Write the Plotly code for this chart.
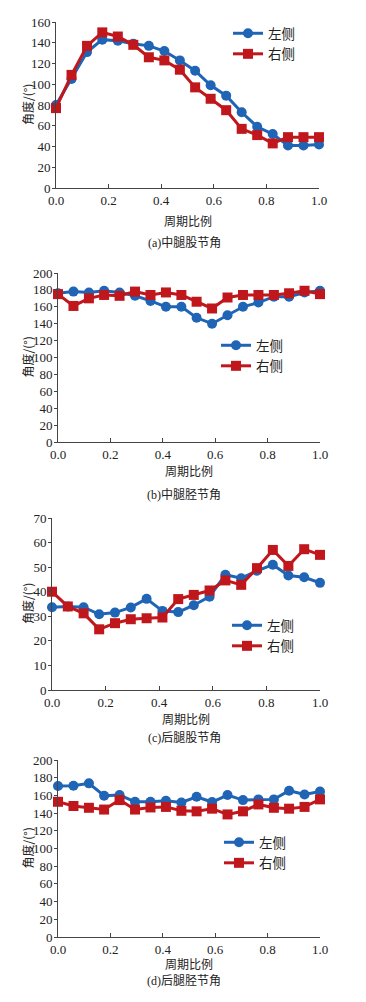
import plotly.graph_objects as go

x_ratio = [0.0, 0.059, 0.118, 0.176, 0.235, 0.294, 0.353, 0.412, 0.471,
           0.529, 0.588, 0.647, 0.706, 0.765, 0.824, 0.882, 0.941, 1.0]

# (a) middle leg femur joint angle
a_left = [80, 105, 131, 143, 142, 139, 137, 132, 123, 113, 99, 89, 73, 59, 52, 41, 41, 42]
a_right = [77, 109, 137, 150, 146, 138, 126, 123, 114, 97, 86, 75, 57, 51, 43, 49, 49, 49]
# (b) middle leg tibia joint angle
b_left = [176, 178, 177, 179, 177, 173, 167, 160, 160, 147, 140, 150, 160, 165, 172, 172, 177, 179]
b_right = [175, 161, 170, 174, 173, 178, 174, 177, 174, 166, 158, 171, 174, 174, 174, 176, 179, 175]
# (c) hind leg femur joint angle
c_left = [33.7, 34, 33.7, 30.8, 31.5, 33.6, 37.1, 32.2, 31.7, 34.5, 38, 46.9, 45.5, 48.5, 51, 46.6, 45.9, 43.6]
c_right = [40, 34, 31.2, 24.7, 27.2, 28.8, 29.2, 29.5, 37, 38.7, 40.5, 44.6, 42.8, 49.6, 57, 50.5, 57.3, 55]
# (d) hind leg tibia joint angle
d_left = [170.6, 171, 173.6, 159.6, 160.4, 152.8, 152.8, 154, 152, 158.5, 152.5, 160.4, 154.7, 155.5, 155.5, 165.3, 161, 164.5]
d_right = [152.8, 148, 146, 144, 154.7, 144, 146.4, 147, 142.6, 142, 145, 138.5, 142, 149.8, 146, 145, 147, 155.5]

panels = [
    dict(left=a_left, right=a_right, ymax=160, dtick=20, caption="(a)中腿股节角",
         px_x=(56, 319), px_y=(22, 188), leg=(228, 18), title_y=220, cap_y=243),
    dict(left=b_left, right=b_right, ymax=200, dtick=20, caption="(b)中腿胫节角",
         px_x=(58, 320), px_y=(273, 442), leg=(216, 330), title_y=470, cap_y=494),
    dict(left=c_left, right=c_right, ymax=70, dtick=10, caption="(c)后腿股节角",
         px_x=(52, 320), px_y=(518, 690), leg=(227, 610), title_y=718, cap_y=738),
    dict(left=d_left, right=d_right, ymax=200, dtick=20, caption="(d)后腿胫节角",
         px_x=(58, 320), px_y=(760, 937), leg=(219, 827), title_y=963, cap_y=981),
]

# the page body has an 8px margin, so the figure is drawn 8px in from the corner
OFF = 8
W, H = 366 - 2 * OFF, 1002 - 2 * OFF
BLUE = "#1f64b5"
RED = "#c0171c"
SERIF = "Liberation Serif, Noto Sans CJK SC"
CJK = "Noto Sans CJK SC"


def fx(px):
    return (px - OFF) / W


def fy(py):
    return 1 - (py - OFF) / H


fig = go.Figure()
annotations = []
layout = {}

for i, p in enumerate(panels):
    n = i + 1
    xa = "xaxis" if n == 1 else f"xaxis{n}"
    ya = "yaxis" if n == 1 else f"yaxis{n}"
    xr = "x" if n == 1 else f"x{n}"
    yr = "y" if n == 1 else f"y{n}"
    lg = "legend" if n == 1 else f"legend{n}"
    x0, x1 = p["px_x"]
    y0, y1 = p["px_y"]
    xdom = [fx(x0), fx(x1)]
    ydom = [fy(y1), fy(y0)]

    fig.add_trace(go.Scatter(
        x=x_ratio, y=p["left"], mode="lines+markers", name="左侧",
        line=dict(color=BLUE, width=3), marker=dict(symbol="circle", size=10, color=BLUE),
        xaxis=xr, yaxis=yr, legend=lg, cliponaxis=False))
    fig.add_trace(go.Scatter(
        x=x_ratio, y=p["right"], mode="lines+markers", name="右侧",
        line=dict(color=RED, width=3), marker=dict(symbol="square", size=10, color=RED),
        xaxis=xr, yaxis=yr, legend=lg, cliponaxis=False))

    common = dict(showgrid=False, zeroline=False, showline=True, linecolor="#444",
                  linewidth=1, tickcolor="#444", automargin=False,
                  tickfont=dict(family=SERIF, size=13, color="#222"))
    layout[xa] = dict(domain=xdom, range=[0, 1], tick0=0, dtick=0.2, tickformat=".1f",
                      anchor=yr, ticks="inside", ticklen=4, **common)
    layout[ya] = dict(domain=ydom, range=[0, p["ymax"]], tick0=0, dtick=p["dtick"],
                      anchor=xr, ticks="outside", ticklen=3, ticklabelstandoff=-1, **common)

    lx, ly = p["leg"]
    layout[lg] = dict(x=fx(lx), y=fy(ly), xanchor="left", yanchor="top",
                      bgcolor="rgba(0,0,0,0)", font=dict(family=SERIF, size=13.5, color="#222"),
                      itemwidth=30, tracegroupgap=0)

    annotations.append(dict(text="周期比例", x=fx((x0 + x1) / 2), y=fy(p["title_y"]),
                            xref="paper", yref="paper", showarrow=False,
                            xanchor="center", yanchor="middle",
                            font=dict(family=CJK, size=12, color="#222")))
    annotations.append(dict(text=p["caption"], x=fx(184), y=fy(p["cap_y"]),
                            xref="paper", yref="paper", showarrow=False,
                            xanchor="center", yanchor="middle",
                            font=dict(family=SERIF, size=12, color="#222")))
    annotations.append(dict(text="角度/(°)", x=fx(27), y=fy((y0 + y1) / 2),
                            xref="paper", yref="paper", showarrow=False, textangle=-90,
                            xanchor="center", yanchor="middle",
                            font=dict(family=CJK, size=12, color="#222")))

fig.update_layout(width=W, height=H,
                  margin=dict(l=0, r=0, t=0, b=0, autoexpand=False),
                  paper_bgcolor="white", plot_bgcolor="white",
                  annotations=annotations, **layout)
fig.write_html("out.html")
